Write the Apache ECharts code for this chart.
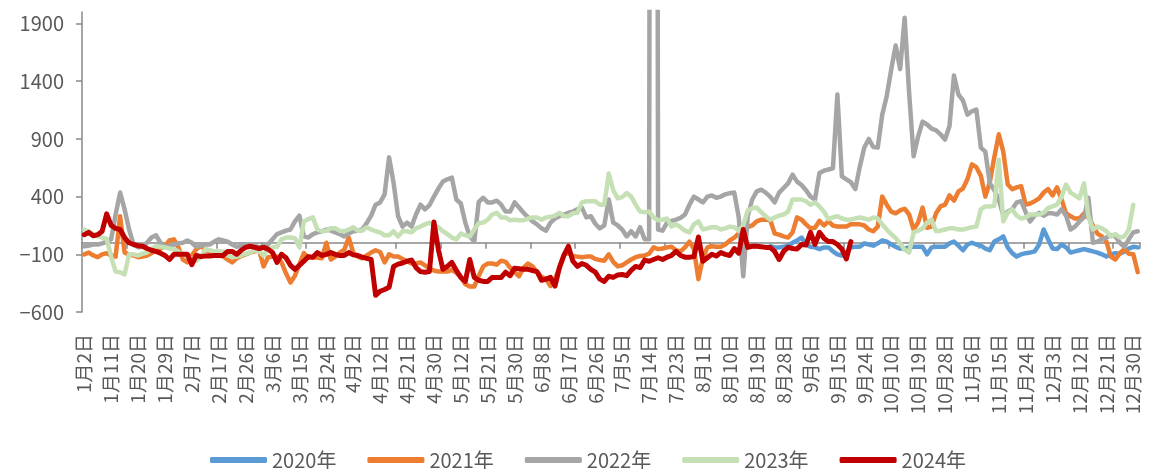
<!DOCTYPE html>
<html>
<head>
<meta charset="utf-8">
<script src="https://cdn.jsdelivr.net/npm/echarts@6/dist/echarts.min.js"></script>
<style>
  html, body { margin: 0; padding: 0; background: #ffffff; }
  #chart { width: 1150px; height: 469px; }
</style>
</head>
<body>
<div id="chart"></div>
<script>
// Trading-day axis: 236 sessions, a date label every 6th session
const sessionCount = 236;
const labelStep = 6;
const tickStep = 10;
const tickLabels = ['1月2日','1月11日','1月20日','1月29日','2月7日','2月17日','2月26日','3月6日','3月15日','3月24日',
  '4月2日','4月12日','4月21日','4月30日','5月12日','5月21日','5月30日','6月8日','6月17日','6月26日',
  '7月5日','7月14日','7月23日','8月1日','8月10日','8月19日','8月28日','9月6日','9月15日','9月24日',
  '10月10日','10月19日','10月28日','11月6日','11月15日','11月24日','12月3日','12月12日','12月21日','12月30日'];
const yTicks = [-600, -100, 400, 900, 1400, 1900];
const yMin = -600;
const yMax = 2000;

const seriesNames = ['2020年', '2021年', '2022年', '2023年', '2024年'];
const seriesColors = ['#5B9BD5', '#ED7D31', '#A5A5A5', '#C5E0B4', '#C00000'];

// 2020 starts at session 153
const start2020 = 153;
const values2020 = [
  -30,-40,-40,-35,-25,0,20,
  45,-15,-35,-40,-55,-40,-40,-75,-100,-110,
  -85,-40,-35,-35,-5,-15,-25,-5,20,10,
  -15,-35,-50,-50,-40,-35,-35,-35,-100,-40,
  -35,-35,-35,-5,10,-25,-65,-15,0,-15,
  -25,-50,-65,10,30,55,-40,-90,-120,-100,
  -90,-85,-75,-15,115,30,-50,-55,-15,-40,
  -85,-75,-65,-55,-65,-75,-85,-100,-120,-100,
  -90,-95,-75,-50,-35,-40
];

const values2021 = [
  -100,-85,-110,-125,-100,-90,-110,-120,230,-85,
  -100,-110,-125,-120,-110,-90,-65,-50,-30,20,
  30,-40,-145,-170,-110,-55,-30,-55,-85,-95,
  -110,-120,-145,-170,-135,-115,-100,-85,-75,-65,
  -205,-125,-120,-120,-170,-265,-345,-285,-185,-90,
  -130,-125,-130,-135,0,-145,-120,-85,-60,45,
  -85,-120,-135,-110,-85,-65,-80,-170,-100,-120,
  -120,-140,-160,-180,-180,-170,-195,-225,-240,-250,
  -250,-250,-235,-260,-300,-360,-380,-380,-285,-205,
  -180,-180,-190,-155,-165,-215,-255,-290,-215,-180,
  -205,-255,-295,-315,-375,-315,-215,-100,-90,-115,
  -120,-125,-120,-120,-140,-150,-155,-100,-165,-205,
  -195,-170,-145,-125,-115,-110,-95,-40,-55,-50,
  -40,-35,-65,-75,-40,10,-55,-315,-135,-40,
  -30,-35,-35,-15,20,45,80,105,135,150,
  185,200,200,200,80,70,55,45,90,220,
  200,160,125,130,190,150,185,150,140,140,
  140,160,160,160,150,115,100,140,400,330,
  270,255,280,295,245,115,175,305,130,140,
  255,315,330,410,365,445,470,550,680,655,
  580,400,525,740,940,790,505,465,480,490,
  330,340,360,385,435,465,410,480,375,255,
  230,210,210,255,220,150,80,55,10,-120,
  -145,-90,-55,-95,-100,-255
];

const values2022 = [
  -30,-25,-15,-15,-5,10,30,245,435,290,
  115,-15,-40,-35,0,45,65,0,-35,-25,
  -15,-5,0,20,0,-35,-25,-15,-15,10,
  30,20,10,-15,-35,-25,-15,-15,-25,-40,
  -30,-15,30,75,90,105,115,185,235,55,
  45,75,90,100,115,105,90,75,55,80,
  100,105,115,170,235,330,350,420,740,520,
  230,140,175,140,245,330,290,325,400,470,
  530,550,565,375,340,175,55,10,355,390,
  350,350,365,330,270,270,350,305,260,220,
  185,160,125,105,175,210,230,245,260,270,
  290,305,220,230,165,125,150,375,175,150,
  115,55,100,55,135,30,30,25000,115,105,
  175,190,200,215,245,330,400,375,350,400,
  410,390,400,420,430,435,220,-290,230,375,
  445,460,435,400,350,435,475,515,590,530,
  500,455,400,375,605,625,635,645,1285,575,
  550,525,465,660,825,900,830,825,1110,1270,
  1500,1710,1505,1950,1300,750,920,1050,1025,990,
  975,940,895,1010,1450,1285,1235,1110,1140,1155,
  825,790,515,455,375,235,270,290,350,360,
  265,185,235,260,235,255,255,245,290,235,
  115,140,185,220,390,0,10,30,45,65,
  55,0,-35,30,90,100
];

const values2023 = [
  115,100,75,55,45,35,-120,-250,-255,-275,
  -100,-100,-110,-95,-85,-55,-30,-35,-40,-50,
  -55,-75,-100,-120,-140,-155,-125,-55,-65,-75,
  -75,-75,-110,-125,-120,-110,-95,-85,-65,-75,
  -110,-55,-40,-35,30,45,45,40,-40,185,
  205,220,115,100,105,125,125,105,100,115,
  135,105,105,135,115,100,90,65,65,100,
  55,100,100,90,125,140,160,175,150,135,
  100,75,45,30,80,65,55,115,170,175,
  200,245,260,220,220,195,200,195,195,210,
  220,220,200,220,225,235,260,230,230,255,
  260,350,360,360,360,330,330,600,455,385,
  395,430,400,330,270,265,270,220,195,200,
  210,140,160,135,105,90,160,185,115,125,
  135,135,115,125,140,135,105,150,280,300,
  305,265,230,200,220,235,245,270,375,375,
  375,360,330,350,315,270,205,220,230,210,
  200,200,210,220,210,200,220,210,160,115,
  75,40,-5,-60,-85,90,105,125,175,200,
  100,105,115,125,125,115,115,125,135,140,
  290,315,315,320,720,185,260,290,235,210,
  220,245,245,245,260,300,315,330,400,505,
  435,410,385,515,230,115,140,125,100,55,
  75,45,55,115,330
];

const values2024 = [
  70,90,60,70,100,250,150,125,115,45,
  0,-15,-25,-30,-50,-65,-75,-90,-110,-145,
  -100,-100,-100,-100,-190,-110,-120,-115,-115,-110,
  -110,-110,-75,-75,-100,-65,-40,-30,-40,-50,
  -40,-55,-85,-170,-100,-130,-195,-230,-195,-160,
  -120,-125,-85,-110,-100,-85,-100,-110,-110,-85,
  -105,-110,-125,-135,-145,-455,-420,-405,-385,-205,
  -185,-175,-160,-150,-215,-250,-255,-250,180,-60,
  -230,-205,-170,-240,-300,-335,-145,-300,-325,-335,
  -335,-300,-300,-300,-255,-285,-220,-225,-230,-230,
  -240,-250,-325,-315,-300,-375,-215,-110,-30,-160,
  -205,-180,-195,-230,-255,-315,-335,-290,-300,-280,
  -275,-285,-240,-205,-215,-150,-160,-145,-130,-145,
  -125,-110,-75,-110,-125,-125,-120,50,-160,-130,
  -100,-115,-85,-100,-110,-50,-90,115,-40,-30,
  -30,-35,-40,-40,-75,-145,-75,-40,-50,-55,
  -15,-20,90,-15,90,40,10,10,-15,-55,
  -140,10
];

const seriesValues = [
  new Array(start2020).fill(null).concat(values2020),
  values2021,
  values2022,
  values2023,
  values2024
];

const categories = Array.from({ length: sessionCount }, (_, i) => String(i));

const axisGray = '#898989';
const textGray = '#595959';
const font = "'Noto Sans CJK SC', 'Noto Sans', sans-serif";

// plain numbers with a true minus sign, no thousands separator
const formatValue = v => (v < 0 ? '\u2212' + Math.abs(v) : String(v));

const chart = echarts.init(document.getElementById('chart'), null, { renderer: 'canvas' });

chart.setOption({
  animation: false,
  backgroundColor: '#ffffff',
  grid: { left: 82, right: 10, top: 12, bottom: 157, containLabel: false, outerBoundsMode: 'none' },
  legend: {
    left: 205,
    top: 445,
    itemWidth: 57,
    itemHeight: 6,
    itemGap: 31,
    icon: 'roundRect',
    textStyle: { fontSize: 20, color: textGray, fontFamily: font },
    data: seriesNames
  },
  xAxis: [
    {
      // date labels along the bottom edge
      type: 'category',
      data: categories,
      boundaryGap: true,
      position: 'bottom',
      axisLine: { show: false, onZero: false },
      axisTick: { show: false },
      splitLine: { show: false },
      axisLabel: {
        interval: labelStep - 1,
        rotate: 90,
        margin: 22,
        fontSize: 19,
        color: textGray,
        fontFamily: font,
        formatter: (value, index) => tickLabels[index / labelStep] || ''
      }
    },
    {
      // horizontal zero line with downward ticks
      type: 'category',
      data: categories,
      boundaryGap: true,
      position: 'top',
      axisLine: { show: true, onZero: true, lineStyle: { color: axisGray, width: 1.5 } },
      axisTick: { show: true, inside: true, interval: tickStep - 1, length: 6, lineStyle: { color: axisGray, width: 1.5 } },
      axisLabel: { show: false },
      splitLine: { show: false }
    }
  ],
  yAxis: {
    type: 'value',
    min: yMin,
    max: yMax,
    axisLine: { show: true, lineStyle: { color: axisGray, width: 1.5 } },
    axisTick: { show: true, length: 6, customValues: yTicks, lineStyle: { color: axisGray, width: 1.5 } },
    axisLabel: { customValues: yTicks, margin: 18, fontSize: 20, color: textGray, fontFamily: font, formatter: formatValue },
    splitLine: { show: false }
  },
  series: seriesNames.map((name, k) => ({
    name: name,
    type: 'line',
    xAxisIndex: 0,
    data: seriesValues[k],
    showSymbol: false,
    symbol: 'none',
    connectNulls: false,
    color: seriesColors[k],
    lineStyle: { color: seriesColors[k], width: k === 4 ? 5 : 4.5, join: 'round', cap: 'round' },
    z: 2 + k
  }))
});
</script>
</body>
</html>
